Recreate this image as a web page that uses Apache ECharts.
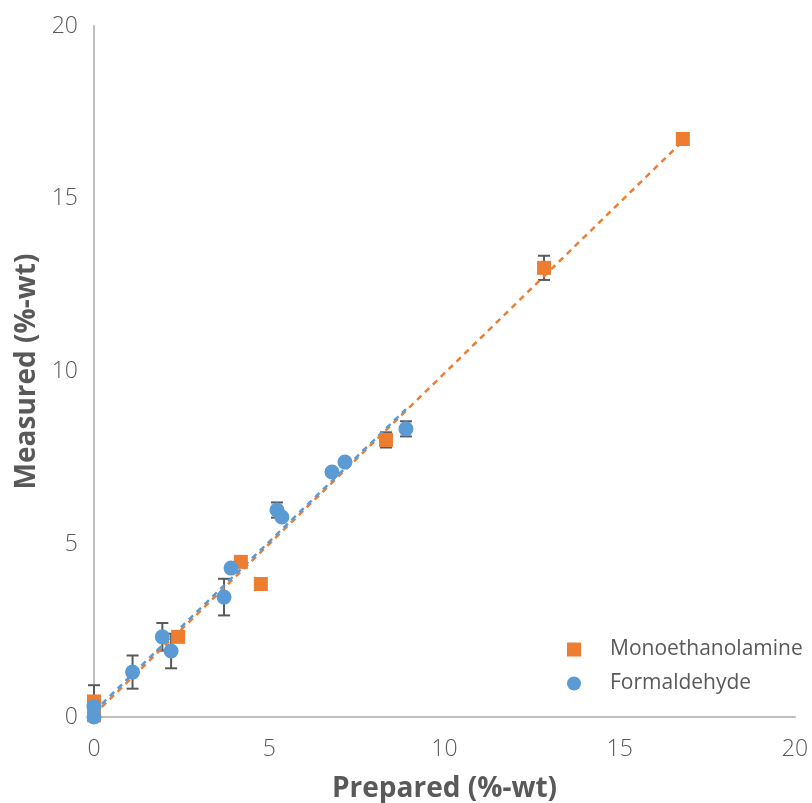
<!DOCTYPE html>
<html>
<head>
<meta charset="utf-8">
<script src="https://cdn.jsdelivr.net/npm/echarts@6/dist/echarts.min.js"></script>
<style>html,body{margin:0;padding:0;background:#fff}#c{width:812px;height:803px}</style>
</head>
<body>
<div id="c"></div>
<script>
// ---- data ----
const axisTicks = [0, 5, 10, 15, 20];
const moePoints = [[0, 0.45], [0, 0.05], [2.40, 2.32], [4.19, 4.49], [4.76, 3.85], [8.33, 8.02], [12.84, 13.0], [16.8, 16.73]];
const formPoints = [[0, 0.30], [0, 0.0], [1.10, 1.30], [1.95, 2.32], [2.20, 1.91], [3.71, 3.47], [3.91, 4.31], [5.22, 5.99], [5.36, 5.79], [6.79, 7.09], [7.16, 7.38], [8.90, 8.34]];
// error bars: [x, y, +/- error]
const moeErrors = [[0, 0.45, 0.47], [8.33, 8.02, 0.22], [12.84, 13.0, 0.35]];
const formErrors = [[1.10, 1.30, 0.48], [1.95, 2.32, 0.40], [2.20, 1.91, 0.50], [3.71, 3.47, 0.53], [5.22, 5.99, 0.22], [8.90, 8.34, 0.22]];
// linear trend lines (endpoints)
const moeTrend = [[0, 0.07], [16.8, 16.67]];
const formTrend = [[0, 0.16], [8.9, 8.91]];

const ORANGE = '#ED7D31', BLUE = '#5B9BD5', GREY = '#595959';
const FONT = '"Open Sans", "Noto Sans", sans-serif';

function errSeries(data) {
  return {
    type: 'custom',
    z: 1,
    silent: true,
    data: data,
    renderItem: function (params, api) {
      const x = api.value(0), y = api.value(1), e = api.value(2);
      const top = api.coord([x, y + e]);
      const bot = api.coord([x, y - e]);
      const w = 6;
      const st = { stroke: GREY, lineWidth: 2 };
      return {
        type: 'group',
        children: [
          { type: 'line', shape: { x1: top[0], y1: top[1], x2: bot[0], y2: bot[1] }, style: st },
          { type: 'line', shape: { x1: top[0] - w, y1: top[1], x2: top[0] + w, y2: top[1] }, style: st },
          { type: 'line', shape: { x1: bot[0] - w, y1: bot[1], x2: bot[0] + w, y2: bot[1] }, style: st }
        ]
      };
    }
  };
}

const chart = echarts.init(document.getElementById('c'), null, { renderer: 'canvas' });
const axisCommon = {
  type: 'value',
  min: axisTicks[0],
  max: axisTicks[axisTicks.length - 1],
  interval: axisTicks[1] - axisTicks[0],
  splitLine: { show: false },
  axisTick: { show: false },
  axisLine: { show: true, onZero: false, lineStyle: { color: '#BFBFBF', width: 2 } },
  axisLabel: { color: GREY, fontSize: 23, fontFamily: FONT, fontWeight: 300 },
  nameLocation: 'middle',
  nameTextStyle: { color: GREY, fontSize: 28, fontWeight: 'bold', fontFamily: FONT }
};

chart.setOption({
  animation: false,
  backgroundColor: '#fff',
  grid: { left: 94, right: 17, top: 26, bottom: 86, containLabel: false, outerBoundsMode: 'none' },
  xAxis: Object.assign({}, axisCommon, {
    name: 'Prepared (%-wt)', nameGap: 58,
    axisLabel: Object.assign({}, axisCommon.axisLabel, { margin: 21 })
  }),
  yAxis: Object.assign({}, axisCommon, {
    name: 'Measured (%-wt)', nameGap: 53,
    axisLabel: Object.assign({}, axisCommon.axisLabel, { margin: 16 })
  }),
  legend: {
    orient: 'vertical',
    left: 562, top: 634,
    itemWidth: 14, itemHeight: 14, itemGap: 13,
    textStyle: { color: GREY, fontSize: 21, fontFamily: FONT, padding: [0, 0, 0, 24] },
    data: [
      { name: 'Monoethanolamine', icon: 'rect' },
      { name: 'Formaldehyde', icon: 'circle' }
    ]
  },
  series: [
    errSeries(moeErrors),
    errSeries(formErrors),
    {
      name: 'MoeTrend', type: 'line', data: moeTrend, symbol: 'none', z: 2, silent: true,
      lineStyle: { color: ORANGE, width: 2.5, type: [6, 5] }
    },
    {
      name: 'FormTrend', type: 'line', data: formTrend, symbol: 'none', z: 2, silent: true,
      lineStyle: { color: BLUE, width: 2.5, type: [6, 5] }
    },
    {
      name: 'Monoethanolamine', type: 'scatter', data: moePoints, symbol: 'rect', symbolSize: 14, z: 3,
      itemStyle: { color: ORANGE, opacity: 1 }
    },
    {
      name: 'Formaldehyde', type: 'scatter', data: formPoints, symbol: 'circle', symbolSize: 15, z: 4,
      itemStyle: { color: BLUE, opacity: 1 }
    }
  ]
});
</script>
</body>
</html>
